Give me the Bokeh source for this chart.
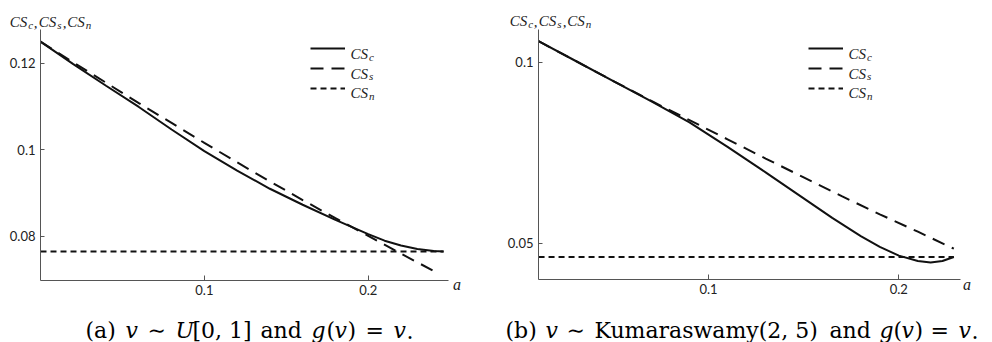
from bokeh.plotting import figure
from bokeh.models import Range1d, FixedTicker, Label, Legend, LegendItem
from bokeh.layouts import row
from bokeh.embed import file_html
from bokeh.resources import INLINE

# ---------------- data: panel (a) ----------------
a_c_left = [0.0, 0.02, 0.04, 0.06, 0.08, 0.10, 0.12, 0.14, 0.16, 0.18, 0.20, 0.21, 0.22, 0.23, 0.24, 0.246]
cs_c_left = [0.1250, 0.1198, 0.1148, 0.1099, 0.1047, 0.0997, 0.0952, 0.0910, 0.0873, 0.0838, 0.0805,
             0.0790, 0.0779, 0.0771, 0.0766, 0.0765]
a_s_left = [0.0, 0.02, 0.04, 0.06, 0.08, 0.10, 0.12, 0.14, 0.16, 0.18, 0.20, 0.22, 0.242]
cs_s_left = [0.1250, 0.1202, 0.1155, 0.1108, 0.1062, 0.1016, 0.0971, 0.0927, 0.0884, 0.0842, 0.0801,
             0.0760, 0.0716]
a_n_left = [0.0, 0.246]
cs_n_left = [0.0765, 0.0765]
xticks_left = [0.1, 0.2]
xtick_labels_left = ["0.1", "0.2"]
yticks_left = [0.08, 0.1, 0.12]
ytick_labels_left = ["0.08", "0.1", "0.12"]

# ---------------- data: panel (b) ----------------
a_c_right = [0.0107, 0.03, 0.05, 0.07, 0.09, 0.11, 0.13, 0.15, 0.165, 0.18, 0.19, 0.20, 0.21, 0.2167,
             0.2229, 0.2289]
cs_c_right = [0.1058, 0.1004, 0.0948, 0.0892, 0.0834, 0.0766, 0.0696, 0.0624, 0.0570, 0.0520, 0.0490,
              0.0466, 0.0451, 0.0447, 0.0451, 0.0462]
a_s_right = [0.0107, 0.03, 0.05, 0.07, 0.09, 0.11, 0.13, 0.15, 0.17, 0.19, 0.21, 0.2289]
cs_s_right = [0.1058, 0.1004, 0.0948, 0.0893, 0.0840, 0.0787, 0.0734, 0.0682, 0.0630, 0.0580, 0.0532,
              0.0485]
a_n_right = [0.0107, 0.2289]
cs_n_right = [0.0462, 0.0462]
xticks_right = [0.1, 0.2]
xtick_labels_right = ["0.1", "0.2"]
yticks_right = [0.05, 0.1]
ytick_labels_right = ["0.05", "0.1"]

series_names = ["c", "s", "n"]
caption_a = [("(a)", "normal", 85), ("v", "italic", 125), ("∼", "normal", 147), ("U", "italic", 175),
             ("[0, 1]", "normal", 192), ("and", "normal", 260), ("g", "italic", 311), ("(", "normal", 326),
             ("v", "italic", 334), (")", "normal", 347), ("=", "normal", 365), ("v", "italic", 393),
             (".", "normal", 406)]
caption_b = [("(b)", "normal", 505), ("v", "italic", 545), ("∼", "normal", 566),
             ("Kumaraswamy(2, 5)", "normal", 594), ("and", "normal", 829), ("g", "italic", 879),
             ("(", "normal", 893), ("v", "italic", 901), (")", "normal", 914), ("=", "normal", 930),
             ("v", "italic", 958), (".", "normal", 971)]

INK = "#111111"
AXIS = "#555555"
TICKFONT = "Lato"
LABFONT = "Liberation Serif"
CAPFONT = "DejaVu Serif"
H = 342
TOP = 29          # pixel row of the top of both y axes


def make_panel(x0, fl, fb, ax_end, a_c, cs_c, a_s, cs_s, a_n, cs_n, xr, yr, xt, xtl, yt, ytl,
               ylab_x, ylab_y, legend_x, a_x, caption):
    width = 496
    # the frame fills the whole figure; the axes are pinned and bounded to the plotted region
    kx = (xr[1] - xr[0]) / (ax_end - fl)
    ky = (yr[1] - yr[0]) / (fb - TOP)
    x_start = xr[0] - (fl - x0) * kx
    x_end = xr[1] + (x0 + width - ax_end) * kx
    y_top = yr[1] + TOP * ky
    y_bot = yr[0] - (H - fb) * ky

    p = figure(width=width, height=H, output_backend="svg", toolbar_location=None,
               x_range=Range1d(x_start, x_end), y_range=Range1d(y_bot, y_top),
               min_border_left=0, min_border_right=0, min_border_top=0, min_border_bottom=0)
    p.grid.visible = False
    p.outline_line_color = None
    p.background_fill_color = "white"
    p.border_fill_color = "white"

    xa, ya = p.xaxis[0], p.yaxis[0]
    xa.fixed_location = yr[0]
    ya.fixed_location = xr[0]
    xa.bounds = xr
    ya.bounds = yr
    for ax, ticks, labels, tin, standoff in ((xa, xt, xtl, 5, 4), (ya, yt, ytl, 4, 5)):
        ax.ticker = FixedTicker(ticks=ticks)
        ax.major_label_overrides = {t: l for t, l in zip(ticks, labels)}
        ax.major_tick_in = tin
        ax.major_tick_out = 0
        ax.minor_tick_line_color = None
        ax.axis_line_color = AXIS
        ax.axis_line_width = 1
        ax.major_tick_line_color = AXIS
        ax.major_label_text_font = TICKFONT
        ax.major_label_text_font_size = "13px"
        ax.major_label_text_color = "#222222"
        ax.major_label_standoff = standoff

    r_c = p.line(a_c, cs_c, line_color=INK, line_width=2)
    r_s = p.line(a_s, cs_s, line_color=INK, line_width=2, line_dash="13 8")
    r_n = p.line(a_n, cs_n, line_color=INK, line_width=2, line_dash="6 4")

    def txt(rx, ry, text, size, font=LABFONT, style="italic", color="#222222"):
        p.add_layout(Label(x=rx - x0, y=H - ry, x_units="screen", y_units="screen", text=text,
                           text_font=font, text_font_size=f"{size}px", text_font_style=style,
                           text_color=color, text_align="left", text_baseline="alphabetic"))

    def cs(rx, ry, sub):
        txt(rx, ry, "CS", 15)
        txt(rx + 18.4, ry + 2.8, sub, 11)

    legend = Legend(items=[LegendItem(label=" ", renderers=[r]) for r in (r_c, r_s, r_n)],
                    location=(legend_x - x0, H - 97.5), glyph_width=35, glyph_height=20,
                    label_height=20, label_width=1, label_standoff=0, spacing=0, padding=0, margin=0,
                    border_line_color=None, background_fill_alpha=0, label_text_font_size="1px")
    p.add_layout(legend)
    for i, sub in enumerate(series_names):
        cs(legend_x + 40, 53.3 + 19.7 * i, sub)

    # y-axis title CS_c, CS_s, CS_n
    for i, sub in enumerate(series_names):
        gx = ylab_x + [0, 29, 57.5][i]
        cs(gx, ylab_y, sub)
        if i < 2:
            txt(gx + 24, ylab_y + 1, ",", 15)

    # x-axis title
    txt(a_x, 283.5, "a", 16)

    # caption
    for t, style, cx in caption:
        txt(cx, 330, t, 22, font=CAPFONT, style=style, color="#000000")
    return p


left = make_panel(0, 40, 280, 448, a_c_left, cs_c_left, a_s_left, cs_s_left, a_n_left, cs_n_left,
                  (0.0, 0.249), (0.0698, 0.1278), xticks_left, xtick_labels_left,
                  yticks_left, ytick_labels_left, 9.3, 21.7, 310, 452.5, caption_a)
right = make_panel(496, 538, 279, 960, a_c_right, cs_c_right, a_s_right, cs_s_right, a_n_right,
                   cs_n_right, (0.01067, 0.2324), (0.0400, 0.10903), xticks_right, xtick_labels_right,
                   yticks_right, ytick_labels_right, 509.3, 20.7, 808, 962.5, caption_b)

layout = row(left, right)
open("out.html", "w").write(file_html(layout, INLINE))
